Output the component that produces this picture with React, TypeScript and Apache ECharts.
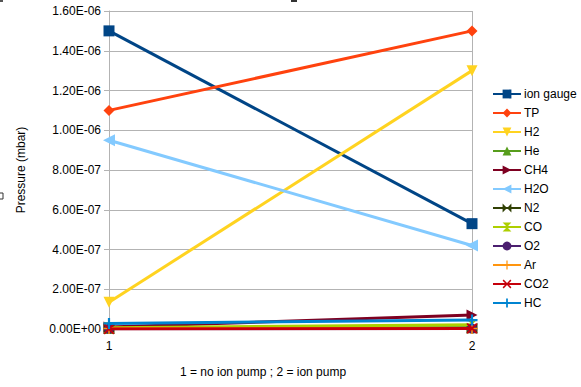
import React, { useEffect, useRef } from "react";
import * as echarts from "echarts";

const categories = ["1", "2"];
const seriesNames = ["ion gauge", "TP", "H2", "He", "CH4", "H2O", "N2", "CO", "O2", "Ar", "CO2", "HC"];
const ionGauge = [1.5e-6, 5.3e-7];
const tp = [1.1e-6, 1.5e-6];
const h2 = [1.35e-7, 1.3e-6];
const he = [3e-9, 6e-9];
const ch4 = [1e-8, 7e-8];
const h2o = [9.5e-7, 4.2e-7];
const n2 = [2e-9, 4e-9];
const co = [6e-9, 2.2e-8];
const o2 = [1e-9, 2e-9];
const ar = [2e-9, 3e-9];
const co2 = [0, 3e-9];
const hc = [2.8e-8, 4.5e-8];
const seriesValues = [ionGauge, tp, h2, he, ch4, h2o, n2, co, o2, ar, co2, hc];

const colors = ["#004586", "#ff420e", "#ffd320", "#579d1c", "#7e0021", "#83caff", "#314004", "#aecf00", "#4b1f6f", "#ff950e", "#c5000b", "#0084d1"];
const symbols = [
  "rect",
  "diamond",
  "path://M0,0 L10,0 L5,9 Z",
  "path://M5,0 L10,9 L0,9 Z",
  "path://M0,0 L9,5 L0,10 Z",
  "path://M9,0 L0,5 L9,10 Z",
  "path://M0,0 L5,5 L0,10 Z M10,0 L5,5 L10,10 Z",
  "path://M0,0 L10,0 L5,5 Z M0,10 L10,10 L5,5 Z",
  "circle",
  "path://M4.3,0 H5.7 V4.3 H10 V5.7 H5.7 V10 H4.3 V5.7 H0 V4.3 H4.3 Z",
  "path://M0,1.2 L1.2,0 L5,3.8 L8.8,0 L10,1.2 L6.2,5 L10,8.8 L8.8,10 L5,6.2 L1.2,10 L0,8.8 L3.8,5 Z",
  "path://M4,0 H6 V4 H10 V6 H6 V10 H4 V6 H0 V4 H4 Z",
];
const symbolSizes = [11, 11, 11, 11, 11, 12, 11, 11, 10, 11, 11, 11];

function fmt(v: number): string {
  const s = v.toExponential(2);
  const [m, e] = s.split("e");
  const n = parseInt(e, 10);
  const sign = n < 0 ? "-" : "+";
  const a = Math.abs(n);
  return m + "E" + sign + (a < 10 ? "0" + a : String(a));
}

export default function App() {
  const ref = useRef<HTMLDivElement>(null);
  useEffect(() => {
    if (!ref.current) return;
    const chart = echarts.init(ref.current, undefined, { renderer: "svg" });
    const font = "'Liberation Sans', Arial, sans-serif";
    chart.setOption({
      animation: false,
      textStyle: { fontFamily: font },
      grid: { left: 109, right: 109, top: 11, bottom: 58, containLabel: false },
      legend: {
        orient: "vertical",
        left: 487,
        top: 83,
        itemWidth: 28,
        itemHeight: 11,
        itemGap: 7,
        textStyle: { fontSize: 12, color: "#000", fontFamily: font, padding: [0, 0, 0, -2] },
        data: seriesNames,
      },
      xAxis: {
        type: "category",
        data: categories,
        boundaryGap: false,
        axisLine: { lineStyle: { color: "#b3b3b3", width: 1 } },
        axisTick: { show: true, length: 5, lineStyle: { color: "#b3b3b3" } },
        axisLabel: { fontSize: 12, color: "#000", margin: 11, fontFamily: font },
        splitLine: { show: true, lineStyle: { color: "#b3b3b3", width: 1 } },
      },
      yAxis: {
        type: "value",
        min: 0,
        max: 1.6e-6,
        interval: 2e-7,
        name: "Pressure (mbar)",
        nameLocation: "middle",
        nameRotate: 90,
        nameGap: 82,
        nameTextStyle: { fontSize: 12, color: "#000", fontFamily: font },
        axisLine: { show: true, lineStyle: { color: "#b3b3b3", width: 1 } },
        axisTick: { show: true, length: 5, lineStyle: { color: "#b3b3b3" } },
        axisLabel: { fontSize: 12, color: "#000", margin: 8, fontFamily: font, formatter: (v: number) => fmt(v) },
        splitLine: { show: true, lineStyle: { color: "#b3b3b3", width: 1 } },
      },
      graphic: [
        {
          type: "text",
          left: 180,
          top: 366,
          style: { text: "1 = no ion pump ; 2 = ion pump", fontSize: 12, fill: "#000", fontFamily: font },
        },
        { type: "rect", shape: { x: 291, y: 0, width: 6, height: 2 }, style: { fill: "#333" } },
        { type: "rect", shape: { x: -3, y: 193, width: 6, height: 6 }, style: { fill: "none", stroke: "#333", lineWidth: 1 } },
        { type: "rect", shape: { x: 0, y: 0, width: 3, height: 2 }, style: { fill: "#555" } },
      ],
      series: seriesNames.map((name, i) => ({
        name,
        type: "line",
        data: seriesValues[i],
        symbol: symbols[i],
        symbolSize: symbolSizes[i],
        showAllSymbol: true,
        lineStyle: { color: colors[i], width: 3 },
        itemStyle: { color: colors[i] },
        emphasis: { disabled: true },
        z: 2 + i * 0.01,
      })),
    });
    return () => chart.dispose();
  }, []);
  return <div ref={ref} style={{ width: 581, height: 387, position: "absolute", left: 0, top: 0 }} />;
}
